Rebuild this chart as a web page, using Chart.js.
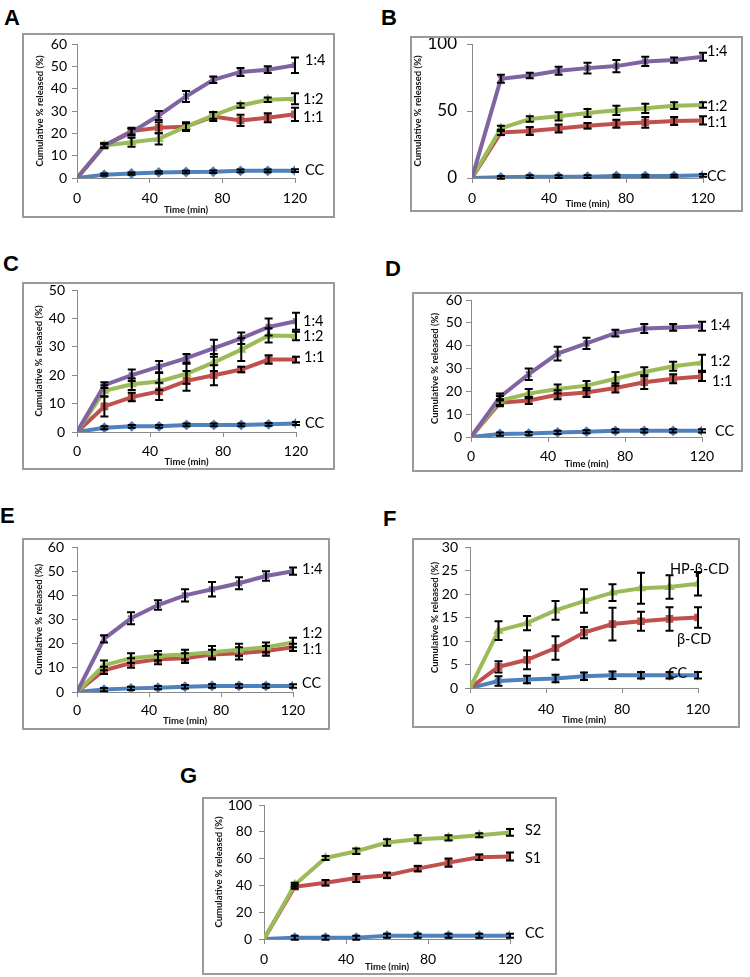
<!DOCTYPE html>
<html lang="en">
<head>
<meta charset="UTF-8">
<title>Cumulative release profiles</title>
<style>
  body { margin: 0; width: 750px; height: 977px; position: relative; overflow: hidden; background: #fff; }
  .letter { position: absolute; font-family: "Liberation Sans", Arial, sans-serif; font-weight: bold; font-size: 22px; line-height: 1; color: #000; }
  .panel { position: absolute; border: 2px solid #9a9a9a; box-sizing: border-box; background: #fff; }
  .panel canvas { position: absolute; left: 0; top: 0; }
</style>
</head>
<body>
<script src="https://cdn.jsdelivr.net/npm/chart.js"></script>
<script>
// sampling times (min)
const TIME = [0, 15, 30, 45, 60, 75, 90, 105, 120];

// Panel A
const A_CC = [0, 1.5, 2, 2.5, 2.7, 2.8, 3.2, 3.2, 3.3];
const A_CC_ERR = [0, 0.5, 0.5, 0.5, 0.6, 0.6, 0.6, 0.6, 0.6];
const A_11 = [0, 14.5, 21, 22.5, 23, 27.5, 25.8, 27, 28.5];
const A_11_ERR = [0, 1, 1.5, 2.5, 2, 2, 2.5, 2, 3];
const A_12 = [0, 14.5, 16, 17.5, 23, 28, 32.5, 35, 35.5];
const A_12_ERR = [0, 1, 2, 2.5, 1.5, 1.5, 1, 1, 2.5];
const A_14 = [0, 14.5, 20.5, 28, 36.5, 44, 47.5, 48.5, 50.5];
const A_14_ERR = [0, 1, 1.5, 2, 2.5, 1.5, 1.8, 1.5, 3.5];

// Panel B
const B_CC = [0, 0.5, 1, 1, 1, 1.5, 1.5, 1.5, 2];
const B_CC_ERR = [0, 1, 1, 1, 1, 1, 1, 1, 1];
const B_11 = [0, 34, 35, 37, 39, 40.5, 41.5, 42.5, 43];
const B_11_ERR = [0, 2, 3, 3, 2, 3, 4, 3, 3];
const B_12 = [0, 37, 44, 46, 48.5, 50.5, 52, 54, 54.5];
const B_12_ERR = [0, 2, 2, 3, 3, 3.5, 3.5, 2.5, 2];
const B_14 = [0, 74, 76.5, 80, 82, 83.5, 87, 88, 90.5];
const B_14_ERR = [0, 3, 2, 3, 4, 4.5, 3.5, 2, 3];

// Panel C
const C_CC = [0, 1.5, 2, 2, 2.5, 2.5, 2.5, 2.7, 3];
const C_CC_ERR = [0, 0.5, 0.5, 0.5, 0.5, 0.5, 0.5, 0.5, 0.5];
const C_11 = [0, 9, 12.3, 14.3, 18, 20, 22, 25.5, 25.5];
const C_11_ERR = [0, 3.5, 1.5, 3, 3.5, 3.5, 1, 1.5, 1];
const C_12 = [0, 14.5, 16.8, 17.8, 20.5, 24.5, 29, 34, 33.8];
const C_12_ERR = [0, 2, 2, 3, 3.5, 3, 4, 2.5, 1.5];
const C_14 = [0, 16.5, 20, 23, 26, 29.5, 33, 37, 39];
const C_14_ERR = [0, 1, 2, 2, 1.5, 3, 2, 3, 3];

// Panel D
const D_CC = [0, 1.3, 1.5, 2, 2.3, 2.7, 2.7, 2.7, 2.7];
const D_CC_ERR = [0, 0.7, 0.7, 0.7, 0.7, 0.7, 0.7, 0.7, 0.7];
const D_11 = [0, 15, 16, 18.5, 19.5, 21.5, 24, 25.5, 26.5];
const D_11_ERR = [0, 1.5, 1.5, 2, 2, 2, 3, 2, 2];
const D_12 = [0, 16, 19, 21, 22.5, 25.5, 28.5, 31, 32.5];
const D_12_ERR = [0, 2, 2, 2, 2, 3, 2, 2, 3.5];
const D_14 = [0, 17.5, 27.5, 36.5, 41, 45.5, 47.5, 48, 48.5];
const D_14_ERR = [0, 1.5, 2.5, 3, 2.5, 1.5, 2, 1.5, 2];

// Panel E
const E_CC = [0, 1, 1.5, 1.8, 2.2, 2.5, 2.5, 2.5, 2.5];
const E_CC_ERR = [0, 0.7, 0.7, 0.7, 0.7, 0.7, 0.7, 0.7, 0.7];
const E_11 = [0, 9, 12, 13.5, 14, 15.5, 16, 17, 18.5];
const E_11_ERR = [0, 1.5, 2, 2, 2, 2, 2.5, 2, 1.5];
const E_12 = [0, 11, 14, 15, 15.5, 16.5, 17.5, 18.5, 20.5];
const E_12_ERR = [0, 2, 2, 2, 2, 2.5, 2.5, 2, 2];
const E_14 = [0, 22, 30.5, 36, 40, 42.5, 45, 48, 50];
const E_14_ERR = [0, 1.5, 2.5, 2, 2.5, 3, 2.5, 2, 1.5];

// Panel F
const F_CC = [0, 1.5, 1.8, 2, 2.5, 2.7, 2.7, 2.7, 2.7];
const F_CC_ERR = [0, 1, 0.8, 0.8, 0.8, 0.8, 0.7, 0.7, 0.7];
const F_BCD = [0, 4.5, 6, 8.5, 11.8, 13.6, 14.2, 14.7, 15];
const F_BCD_ERR = [0, 1.2, 2, 2.5, 1.2, 3.5, 2, 2.5, 2.2];
const F_HP = [0, 12.2, 13.8, 16.5, 18.5, 20.3, 21.2, 21.5, 22.2];
const F_HP_ERR = [0, 2, 1.5, 2, 2.5, 1.8, 3.3, 2.5, 2.5];

// Panel G
const G_CC = [0, 1, 1, 1, 2.5, 2.5, 2.5, 2.5, 2.5];
const G_CC_ERR = [0, 1.5, 1.5, 1.5, 1.5, 1.5, 1.5, 1.5, 1.5];
const G_S1 = [0, 39, 42, 45.5, 47.5, 52.5, 57, 61, 61.5];
const G_S1_ERR = [0, 1.5, 2, 3, 2, 2, 3, 2, 3];
const G_S2 = [0, 40.5, 60.5, 65.5, 72, 74.5, 75.5, 77.5, 79.5];
const G_S2_ERR = [0, 1.5, 1.5, 2, 2.5, 3, 2, 1.5, 2.5];

const STYLES = {
  blue:   { color: '#4F81BD', point: 'rectRot' },
  red:    { color: '#C0504D', point: 'rect' },
  green:  { color: '#9BBB59', point: 'triangle' },
  purple: { color: '#8064A2', point: 'crossRot' }
};

// layout of each panel in page pixels: box [l,t,r,b], plot [l,t,r,b]
const PANELS = [
  { letter: 'A', letterPos: [4, 7], box: [22, 33, 335, 218], plot: [77, 44, 295, 178],
    yMax: 60, yStep: 10, yTickSize: 14, yTickRight: 67, yTitleX: 40, xTickMid: 197, xTitleY: 212,
    lines: [['1:4', A_14, A_14_ERR, 'purple', 10, -5], ['1:2', A_12, A_12_ERR, 'green', 8, 1],
            ['1:1', A_11, A_11_ERR, 'red', 8, 3], ['CC', A_CC, A_CC_ERR, 'blue', 10, 0]] },
  { letter: 'B', letterPos: [381, 7], box: [410, 36, 743, 212], plot: [472, 44, 703, 178],
    yMax: 100, yStep: 50, yTickSize: 17, yTickRight: 457, yTitleX: 418, xTickMid: 197, xTitleY: 204,
    lines: [['1:4', B_14, B_14_ERR, 'purple', 4, -5], ['1:2', B_12, B_12_ERR, 'green', 4, 1],
            ['1:1', B_11, B_11_ERR, 'red', 4, 1.5], ['CC', B_CC, B_CC_ERR, 'blue', 4, 1]] },
  { letter: 'C', letterPos: [3, 253], box: [22, 282, 335, 470], plot: [77, 290, 296, 432],
    yMax: 50, yStep: 10, yTickSize: 14, yTickRight: 65, yTitleX: 39, xTickMid: 450, xTitleY: 462,
    lines: [['1:4', C_14, C_14_ERR, 'purple', 7, 0], ['1:2', C_12, C_12_ERR, 'green', 7, 0],
            ['1:1', C_11, C_11_ERR, 'red', 8, -2], ['CC', C_CC, C_CC_ERR, 'blue', 9, 0]] },
  { letter: 'D', letterPos: [385, 258], box: [412, 292, 743, 472], plot: [471, 300, 702, 437],
    yMax: 60, yStep: 10, yTickSize: 14, yTickRight: 462, yTitleX: 435, xTickMid: 455, xTitleY: 466,
    lines: [['1:4', D_14, D_14_ERR, 'purple', 8, -1], ['1:2', D_12, D_12_ERR, 'green', 8, -1],
            ['1:1', D_11, D_11_ERR, 'red', 10, 5], ['CC', D_CC, D_CC_ERR, 'blue', 13, 0]] },
  { letter: 'E', letterPos: [0, 505], box: [22, 538, 330, 730], plot: [77, 547, 293, 692],
    yMax: 60, yStep: 10, yTickSize: 14, yTickRight: 64, yTitleX: 39, xTickMid: 709, xTitleY: 721,
    lines: [['1:4', E_14, E_14_ERR, 'purple', 9, -2], ['1:2', E_12, E_12_ERR, 'green', 9, -9.5],
            ['1:1', E_11, E_11_ERR, 'red', 9, 2], ['CC', E_CC, E_CC_ERR, 'blue', 9, -3]] },
  { letter: 'F', letterPos: [383, 508], box: [412, 538, 740, 728], plot: [470, 547, 698, 688],
    yMax: 30, yStep: 5, yTickSize: 14, yTickRight: 458, yTitleX: 435, xTickMid: 708, xTitleY: 720,
    lines: [['HP-\u03B2-CD', F_HP, F_HP_ERR, 'green', -28, -14], ['\u03B2-CD', F_BCD, F_BCD_ERR, 'red', -21, 22],
            ['CC', F_CC, F_CC_ERR, 'blue', -30, -2]] },
  { letter: 'G', letterPos: [180, 765], box: [202, 797, 557, 975], plot: [264, 805, 510, 939],
    yMax: 100, yStep: 20, yTickSize: 14, yTickRight: 252, yTitleX: 219, xTickMid: 958, xTitleY: 968,
    lines: [['S2', G_S2, G_S2_ERR, 'green', 15, -2.5], ['S1', G_S1, G_S1_ERR, 'red', 15, 2],
            ['CC', G_CC, G_CC_ERR, 'blue', 15, -2.5]] }
];

const errorBars = {
  id: 'errorBars',
  afterDatasetsDraw(chart) {
    const ctx = chart.ctx;
    const ys = chart.scales.y;
    chart.data.datasets.forEach((ds, i) => {
      const meta = chart.getDatasetMeta(i);
      ctx.save();
      ctx.strokeStyle = '#000';
      ctx.lineWidth = 2;
      meta.data.forEach((pt, j) => {
        const e = ds.errors[j];
        if (!e) return;
        const v = ds.data[j].y;
        const top = ys.getPixelForValue(v + e);
        const bot = ys.getPixelForValue(v - e);
        ctx.beginPath();
        ctx.moveTo(pt.x, top); ctx.lineTo(pt.x, bot);
        ctx.moveTo(pt.x - 4, top); ctx.lineTo(pt.x + 4, top);
        ctx.moveTo(pt.x - 4, bot); ctx.lineTo(pt.x + 4, bot);
        ctx.stroke();
      });
      ctx.restore();
    });
  }
};

const seriesTags = {
  id: 'seriesTags',
  afterDraw(chart) {
    const ctx = chart.ctx;
    chart.data.datasets.forEach((ds, i) => {
      const meta = chart.getDatasetMeta(i);
      const last = meta.data[meta.data.length - 1];
      ctx.save();
      ctx.font = '14.5px Lato';
      ctx.fillStyle = '#000';
      ctx.textBaseline = 'middle';
      ctx.fillText(ds.label, last.x + ds.tagDx, last.y + ds.tagDy);
      ctx.restore();
    });
  }
};

function build(p) {
  const [bl, bt, br, bb] = p.box;
  const [pl, pt, pr, pb] = p.plot;

  const letter = document.createElement('div');
  letter.className = 'letter';
  letter.textContent = p.letter;
  letter.style.left = p.letterPos[0] + 'px';
  letter.style.top = p.letterPos[1] + 'px';
  document.body.appendChild(letter);

  const div = document.createElement('div');
  div.className = 'panel';
  div.style.left = bl + 'px';
  div.style.top = bt + 'px';
  div.style.width = (br - bl) + 'px';
  div.style.height = (bb - bt) + 'px';
  const canvas = document.createElement('canvas');
  const cx = bl + 2, cy = bt + 2, cw = br - bl - 4, ch = bb - bt - 4;
  canvas.width = cw;
  canvas.height = ch;
  div.appendChild(canvas);
  document.body.appendChild(div);

  const datasets = p.lines.map(([name, vals, errs, kind, dx, dy]) => ({
    label: name,
    data: vals.map((v, i) => ({ x: TIME[i], y: v })),
    errors: errs,
    tagDx: dx,
    tagDy: dy,
    borderColor: STYLES[kind].color,
    backgroundColor: STYLES[kind].color,
    borderWidth: 4,
    pointStyle: STYLES[kind].point,
    pointRadius: 4,
    pointBorderWidth: 2,
    tension: 0
  }));

  const titleLH = 9.5 * 1.2;
  const tickLH = 14 * 1.2;
  const axisColor = '#8a8a8a';

  new Chart(canvas, {
    type: 'line',
    data: { datasets },
    options: {
      responsive: false,
      animation: false,
      devicePixelRatio: 1,
      layout: { padding: { left: 0, top: pt - cy, right: cx + cw - pr, bottom: 0 } },
      plugins: { legend: { display: false }, tooltip: { enabled: false } },
      scales: {
        x: {
          type: 'linear', min: 0, max: 120,
          afterFit(s) { s.height = cy + ch - pb; s.paddingLeft = 0; s.paddingRight = 0; },
          ticks: { stepSize: 40, maxRotation: 0, color: '#000', font: { family: 'Lato', size: 14 },
                   padding: p.xTickMid - pb - 5 - tickLH / 2 + 1 },
          grid: { drawOnChartArea: false, drawTicks: true, tickLength: 5, color: axisColor },
          border: { color: axisColor, width: 1 },
          title: { display: true, text: 'Time (min)', color: '#111',
                   font: { family: 'Lato', size: 9.5, weight: 'bold' },
                   padding: { top: 0, bottom: Math.max(0, cy + ch - p.xTitleY - titleLH / 2) } }
        },
        y: {
          min: 0, max: p.yMax,
          afterFit(s) { s.width = pl - cx; s.paddingTop = 0; s.paddingBottom = 0; },
          ticks: { stepSize: p.yStep, color: '#000', font: { family: 'Lato', size: p.yTickSize },
                   padding: pl - 5 - p.yTickRight },
          grid: { drawOnChartArea: false, drawTicks: true, tickLength: 5, color: axisColor },
          border: { color: axisColor, width: 1 },
          title: { display: true, text: 'Cumulative % released (%)', color: '#111',
                   font: { family: 'Lato', size: 9.5, weight: 'bold' },
                   padding: { top: p.yTitleX - cx - titleLH / 2, bottom: 0 } }
        }
      }
    },
    plugins: [errorBars, seriesTags]
  });
}

PANELS.forEach(build);
</script>
</body>
</html>
